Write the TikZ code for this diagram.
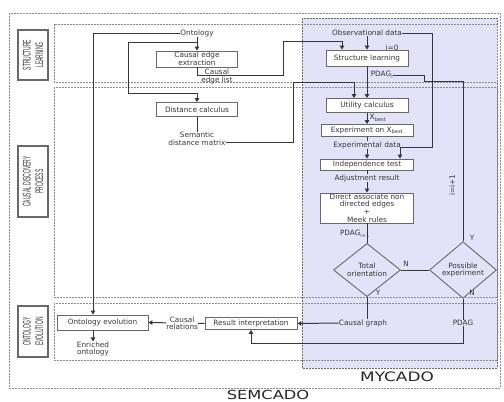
\documentclass[tikz,border=0pt]{standalone}
\usepackage{fontspec}
\setmainfont{DejaVu Sans}
\newfontfamily\narrowfont[FakeStretch=0.45]{Liberation Sans}
\newfontfamily\widefont[FakeStretch=1.3]{DejaVu Sans}
\usetikzlibrary{arrows.meta,shapes.geometric}
\definecolor{lavender}{RGB}{226,226,248}
\definecolor{linegray}{RGB}{55,55,55}
\definecolor{boxgray}{RGB}{105,105,105}
\definecolor{dashgray}{RGB}{140,140,140}

\begin{document}
\begin{tikzpicture}[x=1pt,y=-1pt,
  every node/.style={font=\fontsize{7.3}{7.6}\selectfont,text=linegray,inner sep=0pt,align=center},
  proc/.style={draw=boxgray,fill=white,line width=0.9pt,minimum height=12pt},
  decide/.style={draw=boxgray,line width=0.9pt,diamond,minimum width=67pt,minimum height=46pt},
  lane/.style={draw=boxgray,fill=white,line width=1.1pt,rotate=90,minimum height=30pt,
    font=\narrowfont\fontsize{11}{12.5}\selectfont},
  region/.style={draw=dashgray,dash pattern=on 2pt off 1pt,line width=0.6pt},
  flow/.style={draw=linegray,line width=1pt},
  >={Triangle[length=4pt,width=4.5pt]}]
\useasboundingbox (0,0) rectangle (504,402);

% regions
\fill[lavender] (302,18) rectangle (497,368);
\draw[region,draw=boxgray] (302,18) rectangle (497,368);
\draw[region] (9,13) rectangle (500,388);
\draw[region] (54,24) rectangle (497,82);
\draw[region] (54,87) rectangle (497,297);
\draw[region] (54,303) rectangle (497,360);

% lanes
\node[lane,minimum width=50pt] (laneSL) at (33,55) {STRUCTURE\\LEARNING};
\node[lane,minimum width=71pt] (laneCD) at (33,181.5) {CAUSAL DISCOVERY\\PROCESS};
\node[lane,minimum width=51pt] (laneOE) at (33,331.5) {ONTOLOGY\\EVOLUTION};

% boxes
\node[proc,minimum width=81pt,minimum height=16pt] (cee) at (197,59) {Causal edge\\extraction};
\node[proc,minimum width=81pt,minimum height=14pt] (dist) at (197,109.5) {Distance calculus};
\node[proc,minimum width=82pt,minimum height=16pt] (strl) at (367,58) {Structure learning};
\node[proc,minimum width=82pt,minimum height=14pt] (util) at (367,105.5) {Utility calculus};
\node[proc,minimum width=92pt,minimum height=12pt] (expt) at (367,130.5) {Experiment on X\textsubscript{best}};
\node[proc,minimum width=93pt,minimum height=11pt] (indt) at (367,164.5) {Independence test};
\node[proc,minimum width=93pt,minimum height=30pt] (dir) at (367,208) {Direct associate non\\directed edges\\+\\Meek rules};
\node[decide] (tot) at (367,270) {Total\\orientation};
\node[decide] (pos) at (463,270) {Possible\\experiment};
\node[proc,minimum width=92pt,minimum height=12pt] (res) at (251,323.5) {Result interpretation};
\node[proc,minimum width=91pt,minimum height=15pt] (onto) at (102.5,322.5) {Ontology evolution};

% labels
\node (ontlbl) at (197,33) {Ontology};
\node (obs) at (367,33) {Observational data};
\node (izero) at (392,48) {i=0};
\node (celbl) at (217,76.5) {Causal\\edge list};
\node (pdagi) at (382,75) {PDAG\textsubscript{i}};
\node (sdm) at (197,139) {Semantic\\distance matrix};
\node (xbest) at (378,118) {X\textsubscript{best}};
\node (expd) at (367,145) {Experimental data};
\node (adj) at (367,178) {Adjustment result};
\node (pdagnext) at (355,234) {PDAG\textsubscript{i+1}};
\node[rotate=90] (incr) at (452,185) {i=i+1};
\node (ypos) at (472,238) {Y};
\node (nmid) at (406,264) {N};
\node (ytot) at (378,293) {Y};
\node (npos) at (472,293) {N};
\node (cg) at (363,323) {Causal graph};
\node (pdag) at (463,323) {PDAG};
\node (enr) at (93,349) {Enriched\\ontology};
\node[font=\widefont\fontsize{13}{13}\selectfont,text=black!85] (mycado) at (397,377) {MYCADO};
\node[font=\widefont\fontsize{12.5}{12.5}\selectfont,text=black!85] (semcado) at (268,394.5) {SEMCADO};

% ontology
\coordinate (ontsplit) at (197,42);
\coordinate (ontleft) at (128,93);
\draw[flow,->] (ontlbl.west) -| ([xshift=-9.5pt]onto.north);
\draw[flow,->] (ontlbl.south) -- (cee.north);
\draw[flow,->] (ontsplit) -| (ontleft) -| (dist.north);

% causal edge list
\coordinate (celbend) at (283,75);
\coordinate (celtop) at (342,41);
\draw[flow,->] (cee.south) |- (celbend) |- (celtop) -- (celtop |- strl.north);

% observational data
\coordinate (obsturn) at (432,147);
\draw[flow,->] (obs.south) -- (strl.north);
\draw[flow,->] (obs.east) -| (obsturn) -| ([xshift=33pt]indt.north);

% semantic distance
\coordinate (sdmbend) at (293,82);
\draw[flow] (dist.south) -- (sdm.north);
\draw[flow,->] ([yshift=-3pt]sdm.east) -| (sdmbend) -| ([xshift=-13pt]util.north);

% mycado loop
\coordinate (pdagstep) at (424,81);
\draw[flow,->] (strl.south) -- (util.north);
\draw[flow] (pdagi.east) -| (pdagstep) -| (pos.north);
\draw[flow,->] (util.south) -- (expt.north);
\draw[flow] (expt.south) -- (expd.north);
\draw[flow,->] (expd.south) -- (indt.north);
\draw[flow] (indt.south) -- (adj.north);
\draw[flow,->] (adj.south) -- (dir.north);
\draw[flow] (dir.south) -- (tot.north);
\draw[flow] (tot.east) -- (pos.west);
\draw[flow] (tot.south) -- (tot.south |- cg.north);
\draw[flow,->] (cg.west) -- (res.east);
\draw[flow] (pos.south) -- (pdag.north);
\coordinate (pdagbot) at (463,343);
\draw[flow,->] (pdag.south) -- (pdagbot) -| (res.south);

% evolution
\draw[flow,->] (res.west) -- node[pos=0.4,fill=white] (crel) {Causal\\relations} (onto.east);
\draw[flow,->] ([xshift=-9.5pt]onto.south) -- (enr.north);
\end{tikzpicture}
\end{document}
